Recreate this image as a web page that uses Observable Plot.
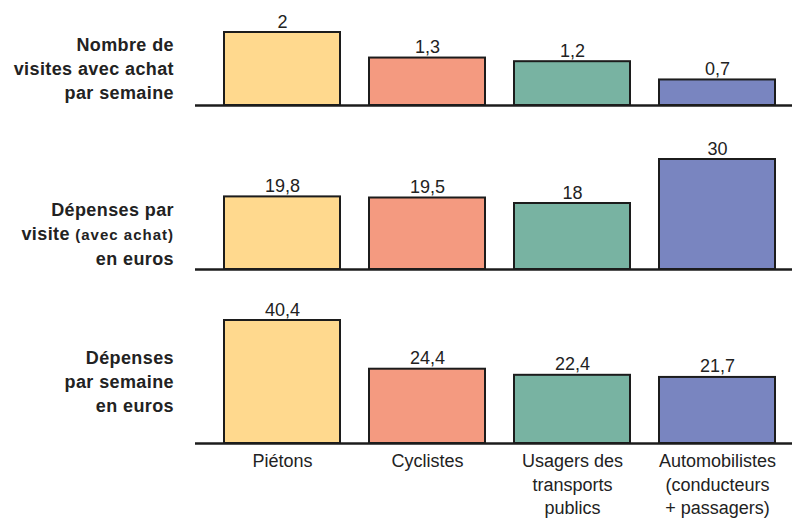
<!DOCTYPE html>
<html><head><meta charset="utf-8">
<script src="https://cdn.jsdelivr.net/npm/d3@7"></script>
<script src="https://cdn.jsdelivr.net/npm/@observablehq/plot@0.6"></script>
<style>
body{margin:0;background:#fff;}
#chart{position:relative;width:792px;height:518px;overflow:hidden;background:#fff;font-family:"Liberation Sans",Arial,sans-serif;}
.row{position:absolute;left:0;}
.lab{position:absolute;right:618px;text-align:right;font-weight:bold;font-size:18px;letter-spacing:0.4px;line-height:24px;color:#222;white-space:nowrap;}
.lab .small{font-size:15px;letter-spacing:1px;}
</style>
</head><body><div id="chart"></div>
<script>
const categories = ["Piétons", "Cyclistes", "Usagers des transports publics", "Automobilistes (conducteurs + passagers)"];
const categoryLabels = ["Piétons", "Cyclistes", "Usagers des\ntransports\npublics", "Automobilistes\n(conducteurs\n+ passagers)"];
const colors = ["#FFD98E", "#F49A80", "#78B3A2", "#7985C0"];
const visitesParSemaine = [2, 1.3, 1.2, 0.7];
const depensesParVisite = [19.8, 19.5, 18, 30];
const depensesParSemaine = [40.4, 24.4, 22.4, 21.7];
const rowTitles = [
  ["Nombre de", "visites avec achat", "par semaine"],
  ["Dépenses par", "visite <span class=\"small\">(avec achat)</span>", "en euros"],
  ["Dépenses", "par semaine", "en euros"]
];

const fmt = v => String(v).replace(".", ",");
const chart = document.getElementById("chart");

const rows = [
  {values: visitesParSemaine, top: 0, height: 130, range: [105, 32], labelTop: 33, axis: false},
  {values: depensesParVisite, top: 130, height: 160, range: [139, 29], labelTop: 198, axis: false},
  {values: depensesParSemaine, top: 290, height: 228, range: [153, 30], labelTop: 346, axis: true}
];

rows.forEach((r, k) => {
  const data = categories.map((c, i) => ({cat: c, label: categoryLabels[i], value: r.values[i]}));
  const marks = [
    Plot.barY(data, {x: "cat", y: "value", fill: "cat", stroke: "#1c1c1c", strokeWidth: 2}),
    Plot.ruleY([0], {stroke: "#1c1c1c", strokeWidth: 2.5}),
    Plot.text(data, {x: "cat", y: "value", text: d => fmt(d.value), lineAnchor: "bottom", dy: -5, fontSize: 18, fill: "#222"})
  ];
  if (r.axis) {
    marks.push(Plot.text(data, {x: "cat", y: 0, text: "label", lineAnchor: "top", dy: 7, lineHeight: 1.3, fontSize: 18, fill: "#222"}));
  }
  const svg = Plot.plot({
    width: 792,
    height: r.height,
    marginLeft: 195,
    marginRight: 0,
    marginTop: 0,
    marginBottom: 0,
    style: {background: "transparent", fontFamily: "'Liberation Sans', Arial, sans-serif", overflow: "visible"},
    x: {domain: categories, range: [209.5, 789.5], paddingInner: 0.2, paddingOuter: 0.1, axis: null},
    y: {domain: [0, d3.max(r.values)], range: r.range, axis: null},
    color: {domain: categories, range: colors},
    marks
  });
  const wrap = document.createElement("div");
  wrap.className = "row";
  wrap.style.top = r.top + "px";
  wrap.appendChild(svg);
  chart.appendChild(wrap);

  const lab = document.createElement("div");
  lab.className = "lab";
  lab.style.top = r.labelTop + "px";
  lab.innerHTML = rowTitles[k].join("<br>");
  chart.appendChild(lab);
});
</script>
</body></html>
